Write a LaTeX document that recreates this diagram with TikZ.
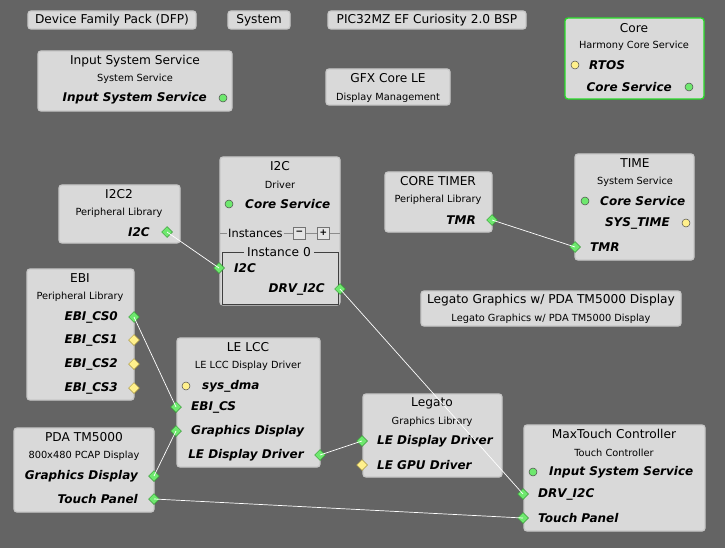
\documentclass[tikz,border=0pt]{standalone}
\usepackage{fontspec}
\setmainfont{DejaVu Sans}
\usetikzlibrary{shapes.geometric}
\definecolor{bg}{RGB}{100,100,100}
\definecolor{boxfill}{RGB}{217,217,217}
\definecolor{boxline}{RGB}{200,200,200}
\definecolor{gport}{RGB}{110,232,110}
\definecolor{gportline}{RGB}{50,150,50}
\definecolor{yport}{RGB}{255,240,140}
\definecolor{yportline}{RGB}{170,150,60}
\definecolor{coreline}{RGB}{40,220,40}
\tikzset{
  box/.style={draw=boxline, line width=1.3pt, fill=boxfill, rounded corners=3pt, inner sep=0pt, outer sep=0pt, anchor=north west},
  ttl/.style={inner sep=0pt, font=\fontsize{12.2}{14}\selectfont, text=black},
  sub/.style={inner sep=0pt, font=\fontsize{9.8}{11}\selectfont, text=black},
  port/.style={inner sep=0pt, font=\fontsize{12}{14}\selectfont\bfseries\itshape, text=black},
  gdia/.style={diamond, draw=gportline, fill=gport, line width=0.5pt, minimum size=11pt, inner sep=0pt},
  ydia/.style={diamond, draw=yportline, fill=yport, line width=0.5pt, minimum size=11pt, inner sep=0pt},
  gcirc/.style={circle, draw=black!70, fill=gport, line width=0.5pt, minimum size=8pt, inner sep=0pt},
  ycirc/.style={circle, draw=black!70, fill=yport, line width=0.5pt, minimum size=8pt, inner sep=0pt},
  wire/.style={draw=white, line width=0.7pt},
  btn/.style={draw=black!55, fill=boxfill!70!white, minimum size=12pt, inner sep=0pt, font=\fontsize{9}{10}\selectfont\bfseries},
}
\begin{document}
\begin{tikzpicture}[x=1pt,y=-1pt]
\fill[bg] (0,0) rectangle (725,548);
\useasboundingbox (0,0) rectangle (725,548);

% top row
\node[box, minimum width=168pt, minimum height=18pt] (dfp) at (28,11) {};
\node[ttl] (dfpt) at (112,20.5) {Device Family Pack (DFP)};
\node[box, minimum width=62pt, minimum height=18pt] (sys) at (228,11) {};
\node[ttl] (syst) at (259,20.5) {System};
\node[box, minimum width=198pt, minimum height=18pt] (bsp) at (328,11) {};
\node[ttl] (bspt) at (427,20.5) {PIC32MZ EF Curiosity 2.0 BSP};

% Input System Service
\node[box, minimum width=194pt, minimum height=60pt] (iss) at (38,51) {};
\node[ttl] (isst) at (135,61) {Input System Service};
\node[sub] (isss) at (135,79) {System Service};
\node[port, anchor=east] (issp) at (207,98) {Input System Service};
\node[gcirc] (issc) at (223,98) {};

% GFX Core LE
\node[box, minimum width=124pt, minimum height=36pt] (gfx) at (326,69) {};
\node[ttl] (gfxt) at (388,78) {GFX Core LE};
\node[sub] (gfxs) at (388,98) {Display Management};

% Core
\node[box, draw=coreline, minimum width=139pt, minimum height=81pt] (core) at (565,18) {};
\node[ttl] (coret) at (634,28) {Core};
\node[sub] (cores) at (634,46) {Harmony Core Service};
\node[port, anchor=west] (corertos) at (589,65) {RTOS};
\node[ycirc] (corey) at (575,65) {};
\node[port, anchor=east] (corecs) at (672,87) {Core Service};
\node[gcirc] (coreg) at (689,87) {};

% I2C2
\node[box, minimum width=121pt, minimum height=58pt] (i2ctwo) at (59,185) {};
\node[ttl] (i2ctwot) at (119,194) {I2C2};
\node[sub] (i2ctwos) at (119,213) {Peripheral Library};
\node[port, anchor=east] (i2ctwop) at (150,232) {I2C};
\node[gdia] (i2ctwod) at (167,232) {};

% I2C driver
\node[box, minimum width=120pt, minimum height=148pt] (drv) at (220,157) {};
\node[ttl] (drvt) at (280,166) {I2C};
\node[sub] (drvs) at (280,185) {Driver};
\node[gcirc] (drvc) at (229,204) {};
\node[port, anchor=west] (drvcs) at (245,204) {Core Service};
\node[ttl, anchor=west, font=\fontsize{11.4}{13}\selectfont] (inst) at (228,233) {Instances};
\node[btn] (minus) at (299.5,233) {−};
\node[btn] (plus) at (323.5,233) {+};
\draw[black!45, line width=0.6pt] (drv.west |- inst.west) -- ([xshift=-1pt]inst.west) ([xshift=1pt]inst.east) -- (minus.west) (minus.east) -- (plus.west) (plus.east) -- (drv.east |- plus.east);
\draw[black!75, line width=0.8pt] (222,252) -- (222,304) -- (338,304) -- (338,252) -- (222,252);
\node[ttl, fill=boxfill, inner xsep=3pt] (inst0) at (279,252) {Instance 0};
\node[port, anchor=west] (drvi) at (234,268) {I2C};
\node[gdia] (drvid) at (219,268) {};
\node[port, anchor=east] (drvo) at (325,289) {DRV\_I2C};
\node[gdia] (drvod) at (340,289) {};

% CORE TIMER
\node[box, minimum width=107pt, minimum height=60pt] (ctmr) at (385,172) {};
\node[ttl] (ctmrt) at (438,181) {CORE TIMER};
\node[sub] (ctmrs) at (438,200) {Peripheral Library};
\node[port, anchor=east] (ctmrp) at (476,220) {TMR};
\node[gdia] (ctmrd) at (492,220) {};

% TIME
\node[box, minimum width=119pt, minimum height=106pt] (time) at (575,154) {};
\node[ttl] (timet) at (635,163) {TIME};
\node[sub] (times) at (635,182) {System Service};
\node[gcirc] (timec) at (585,201) {};
\node[port, anchor=west] (timecs) at (600,201) {Core Service};
\node[port, anchor=east] (timest) at (670,223) {SYS\_TIME};
\node[ycirc] (timey) at (686,223) {};
\node[port, anchor=west] (timetmr) at (590,247) {TMR};
\node[gdia] (timed) at (575,247) {};

% Legato Graphics w/ PDA
\node[box, minimum width=260pt, minimum height=35pt] (lgp) at (421,291) {};
\node[ttl] (lgpt) at (551,300) {Legato Graphics w/ PDA TM5000 Display};
\node[sub] (lgps) at (551,319) {Legato Graphics w/ PDA TM5000 Display};

% EBI
\node[box, minimum width=107pt, minimum height=131pt] (ebi) at (27,269) {};
\node[ttl] (ebit) at (80,278) {EBI};
\node[sub] (ebis) at (80,297) {Peripheral Library};
\node[port, anchor=east] (ebi0) at (118,317) {EBI\_CS0};
\node[gdia] (ebi0d) at (134,317) {};
\node[port, anchor=east] (ebi1) at (118,340) {EBI\_CS1};
\node[ydia] (ebi1d) at (134,340) {};
\node[port, anchor=east] (ebi2) at (118,364) {EBI\_CS2};
\node[ydia] (ebi2d) at (134,364) {};
\node[port, anchor=east] (ebi3) at (118,388) {EBI\_CS3};
\node[ydia] (ebi3d) at (134,388) {};

% LE LCC
\node[box, minimum width=143pt, minimum height=129pt] (lcc) at (177,338) {};
\node[ttl] (lcct) at (248,347) {LE LCC};
\node[sub] (lccs) at (248,366) {LE LCC Display Driver};
\node[ycirc] (lccy) at (186,386) {};
\node[port, anchor=west] (lccdma) at (202,386) {sys\_dma};
\node[port, anchor=west] (lccebi) at (191,407) {EBI\_CS};
\node[gdia] (lccebid) at (176,407) {};
\node[port, anchor=west] (lccgd) at (191,431) {Graphics Display};
\node[gdia] (lccgdd) at (176,431) {};
\node[port, anchor=east] (lccle) at (304,455) {LE Display Driver};
\node[gdia] (lccled) at (320,455) {};

% PDA TM5000
\node[box, minimum width=140pt, minimum height=84pt] (pda) at (14,428) {};
\node[ttl] (pdat) at (84,437) {PDA TM5000};
\node[sub] (pdas) at (84,456) {800x480 PCAP Display};
\node[port, anchor=east] (pdagd) at (138,476) {Graphics Display};
\node[gdia] (pdagdd) at (154,476) {};
\node[port, anchor=east] (pdatp) at (138,499) {Touch Panel};
\node[gdia] (pdatpd) at (154,499) {};

% Legato
\node[box, minimum width=139pt, minimum height=83pt] (leg) at (363,394) {};
\node[ttl] (legt) at (432,403) {Legato};
\node[sub] (legs) at (432,422) {Graphics Library};
\node[port, anchor=west] (legle) at (377,441) {LE Display Driver};
\node[gdia] (legled) at (362,441) {};
\node[port, anchor=west] (leggpu) at (377,465) {LE GPU Driver};
\node[ydia] (leggpud) at (362,465) {};

% MaxTouch
\node[box, minimum width=181pt, minimum height=106pt] (mxt) at (524,425) {};
\node[ttl] (mxtt) at (614,434) {MaxTouch Controller};
\node[sub] (mxts) at (614,453) {Touch Controller};
\node[gcirc] (mxtc) at (533,472) {};
\node[port, anchor=west] (mxtiss) at (549,472) {Input System Service};
\node[port, anchor=west] (mxtdrv) at (538,494) {DRV\_I2C};
\node[gdia] (mxtdrvd) at (523,494) {};
\node[port, anchor=west] (mxttp) at (538,518) {Touch Panel};
\node[gdia] (mxttpd) at (523,518) {};

% wires
\draw[wire] (i2ctwod.center) -- (drvid.center);
\draw[wire] (ctmrd.center) -- (timed.center);
\draw[wire] (ebi0d.center) -- (lccebid.center);
\draw[wire] (pdagdd.center) -- (lccgdd.center);
\draw[wire] (lccled.center) -- (legled.center);
\draw[wire] (drvod.center) -- (mxtdrvd.center);
\draw[wire] (pdatpd.center) -- (mxttpd.center);
\end{tikzpicture}
\end{document}
